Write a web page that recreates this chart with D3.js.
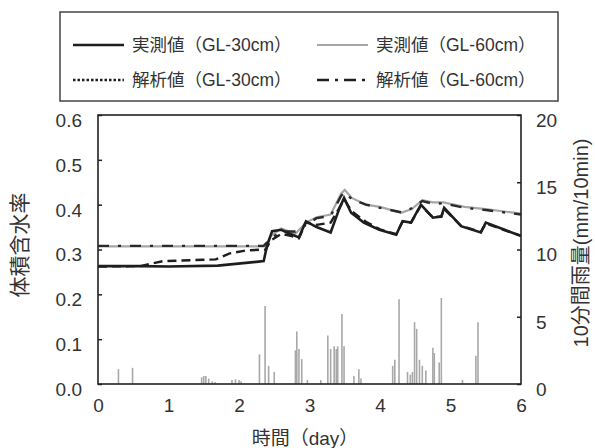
<!DOCTYPE html>
<html>
<head>
<meta charset="utf-8">
<script src="https://cdn.jsdelivr.net/npm/d3@7"></script>
<style>
  body { margin: 0; background: #fff; }
  text { font-family: "Liberation Sans", Arial, "Noto Sans CJK JP", sans-serif; fill: #333; }
</style>
</head>
<body>
<div id="chart"></div>
<script>
// measured / analysis volumetric water content, [day, value]
const measured30 = [[0,0.263],[0.6,0.263],[1.0,0.262],[1.7,0.264],[2.35,0.274],[2.4,0.31],[2.47,0.341],[2.6,0.344],[2.72,0.335],[2.85,0.327],[2.95,0.363],[3.1,0.35],[3.3,0.338],[3.42,0.39],[3.49,0.415],[3.59,0.382],[3.77,0.36],[3.99,0.344],[4.23,0.333],[4.32,0.363],[4.44,0.36],[4.58,0.40],[4.75,0.371],[4.87,0.374],[4.91,0.393],[5.15,0.352],[5.43,0.338],[5.5,0.36],[5.75,0.345],[6.0,0.33]];
const measured60 = [[0,0.307],[2.38,0.307],[2.45,0.33],[2.6,0.347],[2.8,0.335],[2.95,0.36],[3.1,0.372],[3.3,0.378],[3.45,0.425],[3.5,0.433],[3.6,0.415],[3.8,0.40],[4.0,0.395],[4.3,0.382],[4.45,0.39],[4.6,0.41],[4.75,0.405],[4.9,0.405],[5.2,0.395],[5.5,0.39],[6.0,0.38]];
const analysis30 = [[0,0.262],[0.6,0.263],[0.92,0.274],[1.67,0.278],[1.86,0.291],[2.1,0.298],[2.38,0.30],[2.45,0.32],[2.6,0.335],[2.75,0.33],[2.85,0.325],[2.95,0.36],[3.1,0.355],[3.3,0.36],[3.45,0.40],[3.5,0.41],[3.6,0.385],[3.8,0.362],[4.0,0.345],[4.23,0.334],[4.32,0.362],[4.44,0.36],[4.58,0.398],[4.75,0.372],[4.87,0.373],[4.91,0.39],[5.15,0.353],[5.43,0.339],[5.5,0.358],[5.75,0.344],[6.0,0.331]];
const analysis60 = [[0,0.308],[2.35,0.308],[2.45,0.325],[2.6,0.34],[2.8,0.34],[2.95,0.355],[3.1,0.37],[3.3,0.375],[3.45,0.42],[3.5,0.428],[3.6,0.412],[3.8,0.40],[4.0,0.393],[4.3,0.383],[4.45,0.392],[4.6,0.408],[4.75,0.402],[4.9,0.403],[5.2,0.393],[5.5,0.388],[6.0,0.378]];

// 10-minute rainfall (mm/10min), [day, value]
const rain = [[0.29,1.1],[0.49,1.2],[1.47,0.5],[1.5,0.6],[1.53,0.6],[1.57,0.4],[1.62,0.2],[1.66,0.15],[1.9,0.3],[1.95,0.35],[2.0,0.3],[2.03,0.2],[2.29,2.2],[2.37,5.8],[2.42,1.35],[2.5,0.9],[2.8,2.5],[2.82,3.9],[2.85,2.6],[2.89,1.85],[2.97,0.3],[3.16,0.3],[3.26,3.6],[3.3,2.6],[3.35,2.8],[3.38,2.6],[3.4,2.8],[3.46,5.2],[3.49,2.8],[3.63,0.6],[3.7,1.1],[3.73,0.4],[4.18,1.35],[4.21,1.8],[4.27,6.3],[4.39,0.9],[4.43,0.7],[4.46,0.9],[4.49,4.6],[4.52,4.1],[4.56,1.8],[4.6,1.35],[4.65,1.0],[4.75,2.7],[4.77,2.3],[4.84,1.6],[4.87,6.4],[5.17,0.3],[5.36,2.1],[5.39,4.6]];

const xTicks = [0,1,2,3,4,5,6];
const yTicks = [0,0.1,0.2,0.3,0.4,0.5,0.6];
const y2Ticks = [0,5,10,15,20];

const width = 595, height = 448;
const m = {left: 98, right: 521, top: 115, bottom: 384};

const svg = d3.select("#chart").append("svg")
    .attr("width", width).attr("height", height);
svg.append("rect").attr("width", width).attr("height", height).attr("fill", "#fff");

const x = d3.scaleLinear().domain([0, 6]).range([m.left, m.right]);
const y = d3.scaleLinear().domain([0, 0.6]).range([m.bottom, m.top]);
const y2 = d3.scaleLinear().domain([0, 20]).range([m.bottom, m.top]);

// rain bars
svg.append("g").selectAll("line")
    .data(rain)
    .join("line")
    .attr("x1", d => x(d[0])).attr("x2", d => x(d[0]))
    .attr("y1", y2(0)).attr("y2", d => y2(d[1]))
    .attr("stroke", "#a8a8a8").attr("stroke-width", 1.6);

const line = d3.line().x(d => x(d[0])).y(d => y(d[1]));

svg.append("path").datum(measured60).attr("d", line)
    .attr("fill", "none").attr("stroke", "#a6a6a6").attr("stroke-width", 2.2);
svg.append("path").datum(analysis60).attr("d", line)
    .attr("fill", "none").attr("stroke", "#2a2a2a").attr("stroke-width", 2.4)
    .attr("stroke-dasharray", "11,9,3,9");
svg.append("path").datum(measured30).attr("d", line)
    .attr("fill", "none").attr("stroke", "#1e1e1e").attr("stroke-width", 2.6);
svg.append("path").datum(analysis30).attr("d", line)
    .attr("fill", "none").attr("stroke", "#1e1e1e").attr("stroke-width", 2.4)
    .attr("stroke-dasharray", "9,5");

// axes (inward ticks)
const fontSize = 19;
const gx = svg.append("g").attr("transform", `translate(0,${m.bottom})`)
    .call(d3.axisBottom(x).tickValues(xTicks).tickSize(0).tickPadding(10).tickFormat(d3.format("d")));
const gy = svg.append("g").attr("transform", `translate(${m.left},0)`)
    .call(d3.axisLeft(y).tickValues(yTicks).tickSizeInner(-4).tickSizeOuter(0).tickPadding(16).tickFormat(d3.format(".1f")));
const gy2 = svg.append("g").attr("transform", `translate(${m.right},0)`)
    .call(d3.axisRight(y2).tickValues(y2Ticks).tickSizeInner(-4).tickSizeOuter(0).tickPadding(15).tickFormat(d3.format("d")));
[gx, gy, gy2].forEach(g => {
  g.select(".domain").remove();
  g.selectAll("line").attr("stroke", "#222").attr("stroke-width", 1.5);
  g.selectAll("text").style("font-size", fontSize + "px").attr("fill", "#333")
      .style("font-family", '"Liberation Sans", Arial, sans-serif');
});
gy.selectAll("text").attr("dy", "0.6em");
gy2.selectAll("text").attr("dy", "0.6em");
gx.selectAll("text").attr("dy", "0.95em");

// plot frame
svg.append("rect")
    .attr("x", m.left).attr("y", m.top)
    .attr("width", m.right - m.left).attr("height", m.bottom - m.top)
    .attr("fill", "none").attr("stroke", "#222").attr("stroke-width", 1.6);

// axis titles
svg.append("text").attr("x", 305).attr("y", 445).attr("text-anchor", "middle")
    .style("font-size", "19px").text("時間（day）");
svg.append("text").attr("transform", `translate(27,245) rotate(-90)`).attr("text-anchor", "middle")
    .style("font-size", "21px").text("体積含水率");
svg.append("text").attr("transform", `translate(588,243) rotate(-90)`).attr("text-anchor", "middle")
    .style("font-size", "20px").text("10分間雨量(mm/10min)");

// legend
const legend = svg.append("g");
legend.append("rect").attr("x", 60).attr("y", 12).attr("width", 498).attr("height", 89)
    .attr("fill", "#fff").attr("stroke", "#444").attr("stroke-width", 1.5);
const legendItems = [
  {label: "実測値（GL-30cm）", col: 0, row: 0, color: "#1e1e1e", w: 2.6, dash: null},
  {label: "実測値（GL-60cm）", col: 1, row: 0, color: "#a6a6a6", w: 2.2, dash: null},
  {label: "解析値（GL-30cm）", col: 0, row: 1, color: "#1e1e1e", w: 2.4, dash: "2.5,2"},
  {label: "解析値（GL-60cm）", col: 1, row: 1, color: "#1e1e1e", w: 2.6, dash: "12,6,3,6"}
];
const colX = [73, 317], rowY = [45, 80];
legendItems.forEach(d => {
  const lx = colX[d.col], ly = rowY[d.row];
  legend.append("line").attr("x1", lx).attr("x2", lx + 51).attr("y1", ly).attr("y2", ly)
      .attr("stroke", d.color).attr("stroke-width", d.w)
      .attr("stroke-dasharray", d.dash);
  legend.append("text").attr("x", lx + 59).attr("y", ly).attr("dy", "0.36em")
      .style("font-size", "17.5px").text(d.label);
});
</script>
</body>
</html>
